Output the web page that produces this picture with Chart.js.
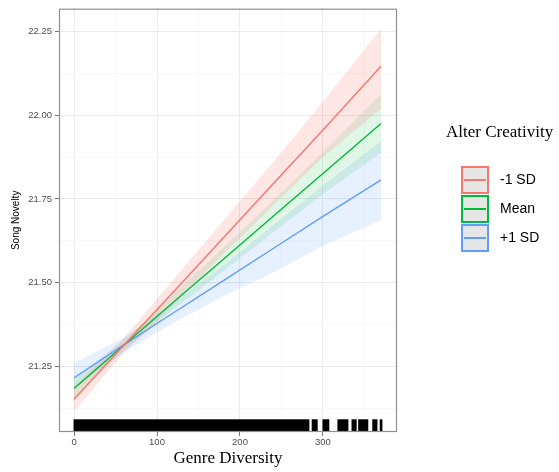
<!DOCTYPE html>
<html>
<head>
<meta charset="utf-8">
<title>Song Novelty by Genre Diversity</title>
<script src="https://cdn.jsdelivr.net/npm/chart.js@4.4.0/dist/chart.umd.min.js"></script>
<style>
  html, body { margin: 0; padding: 0; background: #fff; }
</style>
</head>
<body>
<canvas id="noveltyChart" width="559" height="472"></canvas>
<script>
// moderator levels
const groups = ['-1 SD', 'Mean', '+1 SD'];
const groupColors = ['#F8766D', '#00BA38', '#619CFF'];
const bandColors = ['rgba(248,118,109,0.18)', 'rgba(0,186,56,0.12)', 'rgba(97,156,255,0.15)'];

// genre diversity values where the fits are read
const xPoints = [0, 60, 120, 180, 240, 300, 370];

// fitted song novelty per level
const fitLow  = [21.152, 21.313, 21.473, 21.634, 21.795, 21.956, 22.146];
const fitMean = [21.184, 21.313, 21.442, 21.570, 21.698, 21.826, 21.975];
const fitHigh = [21.216, 21.314, 21.410, 21.506, 21.602, 21.698, 21.807];

// confidence bands (lower / upper)
const lowLo  = [21.115, 21.290, 21.435, 21.585, 21.730, 21.875, 22.020];
const lowHi  = [21.190, 21.335, 21.510, 21.685, 21.860, 22.040, 22.258];
const meanLo = [21.155, 21.298, 21.420, 21.535, 21.650, 21.765, 21.888];
const meanHi = [21.215, 21.328, 21.465, 21.605, 21.745, 21.890, 22.063];
const highLo = [21.185, 21.292, 21.380, 21.460, 21.530, 21.610, 21.687];
const highHi = [21.259, 21.336, 21.440, 21.552, 21.672, 21.790, 21.923];

// observed genre diversity ranges for the rug
const rugSpans = [[0, 283], [287, 293], [300, 307], [318, 330], [335, 340], [343, 354], [360, 365], [369, 371]];

// axis ticks (majors labelled, minors only as grid)
const xTicks = [0, 50, 100, 150, 200, 250, 300, 350];
const xMajor = [0, 100, 200, 300];
const yTicks = [21.125, 21.25, 21.375, 21.5, 21.625, 21.75, 21.875, 22.0, 22.125, 22.25];
const yMajor = [21.25, 21.5, 21.75, 22.0, 22.25];

function pts(ys) {
  return xPoints.map(function(x, i) { return { x: x, y: ys[i] }; });
}

const fits = [fitLow, fitMean, fitHigh];
const bands = [[lowLo, lowHi], [meanLo, meanHi], [highLo, highHi]];

let datasets = [];
// lines first so they sit on top of the ribbons
fits.forEach(function(f, i) {
  datasets.push({
    label: groups[i],
    data: pts(f),
    borderColor: groupColors[i],
    borderWidth: 1.4,
    pointRadius: 0,
    fill: false
  });
});
bands.forEach(function(b, i) {
  datasets.push({
    label: groups[i] + ' lo',
    data: pts(b[0]),
    borderWidth: 0,
    pointRadius: 0,
    fill: false
  });
  datasets.push({
    label: groups[i] + ' hi',
    data: pts(b[1]),
    borderWidth: 0,
    pointRadius: 0,
    backgroundColor: bandColors[i],
    fill: '-1'
  });
});

const isMajor = function(list, v) {
  return list.some(function(m) { return Math.abs(m - v) < 1e-6; });
};

const rugPlugin = {
  id: 'rug',
  afterDatasetsDraw: function(chart) {
    const ctx = chart.ctx;
    const xs = chart.scales.x;
    const area = chart.chartArea;
    const len = (area.bottom - area.top) * 0.03;
    ctx.save();
    ctx.fillStyle = '#000';
    rugSpans.forEach(function(s) {
      const x0 = xs.getPixelForValue(s[0]) - 0.5;
      const x1 = xs.getPixelForValue(s[1]) + 0.5;
      ctx.fillRect(x0, area.bottom - len, x1 - x0, len);
    });
    ctx.restore();
  }
};

const panelBorder = {
  id: 'panelBorder',
  afterDraw: function(chart) {
    const a = chart.chartArea;
    const ctx = chart.ctx;
    ctx.save();
    ctx.strokeStyle = '#8f8f8f';
    ctx.lineWidth = 1.2;
    ctx.strokeRect(a.left + 0.5, a.top + 0.5, a.right - a.left - 1, a.bottom - a.top - 1);
    ctx.restore();
  }
};

// ggplot-style legend with a title and boxed keys
const sideLegend = {
  id: 'sideLegend',
  afterDraw: function(chart) {
    const ctx = chart.ctx;
    ctx.save();
    ctx.fillStyle = '#000';
    ctx.font = '17px "Liberation Serif", "Times New Roman", serif';
    ctx.textBaseline = 'middle';
    ctx.textAlign = 'left';
    ctx.fillText('Alter Creativity', 446, 133);

    groups.forEach(function(g, i) {
      const bx = 461, by = 166 + i * 29, size = 28;
      ctx.fillStyle = '#E6E6E6';
      ctx.fillRect(bx, by, size, size);
      ctx.strokeStyle = groupColors[i];
      ctx.lineWidth = 2;
      ctx.strokeRect(bx + 1, by + 1, size - 2, size - 2);
      ctx.beginPath();
      ctx.moveTo(bx + 3, by + size / 2);
      ctx.lineTo(bx + size - 3, by + size / 2);
      ctx.stroke();
      ctx.fillStyle = '#000';
      ctx.font = '14px "Liberation Sans", Arial, sans-serif';
      ctx.fillText(g, 500, by + size / 2);
    });
    ctx.restore();
  }
};

const ctx = document.getElementById('noveltyChart');
new Chart(ctx, {
  type: 'line',
  data: { datasets: datasets },
  options: {
    responsive: false,
    animation: false,
    layout: { padding: { left: 0, top: 7, right: 162, bottom: 0 } },
    plugins: {
      legend: { display: false },
      tooltip: { enabled: false },
      filler: { propagate: false }
    },
    scales: {
      x: {
        type: 'linear',
        min: -18.1,
        max: 389.2,
        afterBuildTicks: function(scale) {
          scale.ticks = xTicks.map(function(v) { return { value: v }; });
        },
        afterFit: function(scale) { scale.height = 40; },
        grid: {
          color: function(c) { return isMajor(xMajor, c.tick.value) ? '#EBEBEB' : '#F4F4F4'; },
          lineWidth: function(c) { return isMajor(xMajor, c.tick.value) ? 1 : 0.6; },
          tickColor: function(c) { return isMajor(xMajor, c.tick.value) ? '#777' : 'rgba(0,0,0,0)'; },
          tickLength: 4
        },
        border: { display: false },
        ticks: {
          autoSkip: false,
          maxRotation: 0,
          padding: 1,
          color: '#4D4D4D',
          font: { family: '"Liberation Sans", Arial, sans-serif', size: 9.5 },
          callback: function(v) { return isMajor(xMajor, v) ? String(v) : ''; }
        },
        title: {
          display: true,
          text: 'Genre Diversity',
          color: '#000',
          font: { family: '"Liberation Serif", "Times New Roman", serif', size: 17 },
          padding: { top: 0, bottom: 3 }
        }
      },
      y: {
        type: 'linear',
        min: 21.054,
        max: 22.318,
        afterBuildTicks: function(scale) {
          scale.ticks = yTicks.map(function(v) { return { value: v }; });
        },
        afterFit: function(scale) { scale.width = 59; },
        grid: {
          color: function(c) { return isMajor(yMajor, c.tick.value) ? '#EBEBEB' : '#F4F4F4'; },
          lineWidth: function(c) { return isMajor(yMajor, c.tick.value) ? 1 : 0.6; },
          tickColor: function(c) { return isMajor(yMajor, c.tick.value) ? '#777' : 'rgba(0,0,0,0)'; },
          tickLength: 4
        },
        border: { display: false },
        ticks: {
          autoSkip: false,
          padding: 3,
          color: '#4D4D4D',
          font: { family: '"Liberation Sans", Arial, sans-serif', size: 9.5 },
          callback: function(v) { return isMajor(yMajor, v) ? v.toFixed(2) : ''; }
        },
        title: {
          display: true,
          text: 'Song Novelty',
          color: '#000',
          font: { family: '"Liberation Sans", Arial, sans-serif', size: 10 },
          padding: { top: 10, bottom: 0 }
        }
      }
    }
  },
  plugins: [rugPlugin, panelBorder, sideLegend]
});
</script>
</body>
</html>
